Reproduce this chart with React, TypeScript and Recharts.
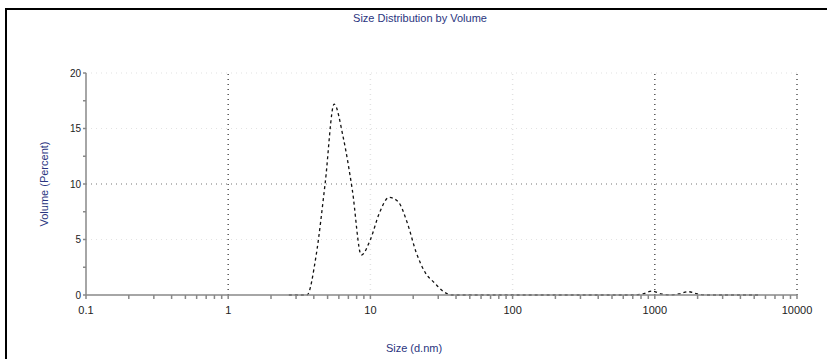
import { LineChart, Line, XAxis, YAxis, ReferenceLine } from "recharts"

const sizes = [
  2.669, 3.091, 3.58, 4.145, 4.801, 5.56, 6.439, 7.456, 8.635, 10.0, 11.58, 13.54, 15.69, 18.17, 21.04, 24.36,
  28.21, 32.67, 37.84, 43.82, 50.75, 68.06, 105.7, 164.2, 255.0, 396.1, 615.1, 712.4, 825.0, 955.4, 1106, 1281,
  1484, 1718, 1990, 2305, 3580, 5560,
]
const volume = [
  0, 0, 0, 3.5, 10.0, 17.2, 14.2, 9.5, 3.6, 5.0, 7.4, 8.8, 8.4, 6.5, 3.8, 2.0, 1.1, 0.3, 0, 0, 0, 0, 0, 0, 0, 0,
  0, 0, 0.1, 0.35, 0.1, 0, 0.1, 0.3, 0.1, 0, 0, 0,
]

const xMajor = [0.1, 1, 10, 100, 1000, 10000]
const xTicks = [0.1, 0.2, 0.3, 0.4, 0.5, 0.6, 0.7, 0.8, 0.9, 1, 2, 3, 4, 5, 6, 7, 8, 9, 10, 20, 30, 40, 50, 60, 70, 80, 90, 100,
  200, 300, 400, 500, 600, 700, 800, 900, 1000, 2000, 3000, 4000, 5000, 6000, 7000, 8000, 9000, 10000]
const yMajor = [0, 5, 10, 15, 20]
const yTicks = [0, 2.5, 5, 7.5, 10, 12.5, 15, 17.5, 20]
// grid lines that print darker in the reference
const xDarkGrid = [1, 1000, 10000]
const yDarkGrid = [10]

const data = sizes.map((s, i) => ({ size: s, volume: volume[i] }))

const font = "'Liberation Sans', Arial, sans-serif"
const navy = "#2a3580"

export default function App() {
  return (
    <div style={{ position: "absolute", left: 0, top: 0, width: 827, height: 359, overflow: "hidden", background: "#fff", fontFamily: font }}>
      <div style={{ position: "absolute", left: 5, top: 8, width: 900, height: 400, border: "2px solid #000", boxSizing: "border-box" }} />
      <div style={{ position: "absolute", left: 0, top: 12, width: 840, textAlign: "center", fontSize: 11, color: navy }}>
        Size Distribution by Volume
      </div>
      <div style={{ position: "absolute", left: 0, top: 342, width: 828, textAlign: "center", fontSize: 11, color: navy }}>
        Size (d.nm)
      </div>
      <div
        style={{
          position: "absolute",
          left: 44,
          top: 184,
          transform: "translate(-50%, -50%) rotate(-90deg)",
          fontSize: 11,
          color: navy,
          whiteSpace: "nowrap",
        }}
      >
        Volume (Percent)
      </div>
      <div style={{ position: "absolute", left: 0, top: 0 }}>
        <LineChart width={827} height={359} data={data} margin={{ top: 73, right: 30, left: 0, bottom: 0 }}>
          {xMajor.slice(1).map((v) => (
            <ReferenceLine
              key={"x" + v}
              x={v}
              stroke={xDarkGrid.includes(v) ? "#555" : "#e2e2e2"}
              strokeDasharray="1 4"
              strokeWidth={1.5}
            />
          ))}
          {yMajor.slice(1).map((v) => (
            <ReferenceLine
              key={"y" + v}
              y={v}
              stroke={yDarkGrid.includes(v) ? "#777" : "#e2e2e2"}
              strokeDasharray="1 4"
              strokeWidth={1.2}
            />
          ))}
          <XAxis
            dataKey="size"
            type="number"
            scale="log"
            domain={[0.1, 10000]}
            ticks={xTicks}
            interval={0}
            allowDataOverflow
            height={64}
            stroke="#888"
            strokeWidth={1.5}
            tickSize={4}
            tick={{ fontSize: 11, fill: "#222", fontFamily: font, dy: 5 }}
            tickFormatter={(v: number) => (xMajor.includes(v) ? String(v) : "")}
          />
          <YAxis
            type="number"
            domain={[0, 20]}
            ticks={yTicks}
            interval={0}
            width={86}
            stroke="#888"
            strokeWidth={1.5}
            tickSize={3}
            tick={{ fontSize: 10, fill: "#222", fontFamily: font }}
            tickFormatter={(v: number) => (yMajor.includes(v) ? String(v) : "")}
          />
          <Line
            type="monotone"
            dataKey="volume"
            stroke="#111"
            strokeWidth={1.3}
            strokeDasharray="3 3"
            dot={false}
            isAnimationActive={false}
          />
        </LineChart>
      </div>
    </div>
  )
}
